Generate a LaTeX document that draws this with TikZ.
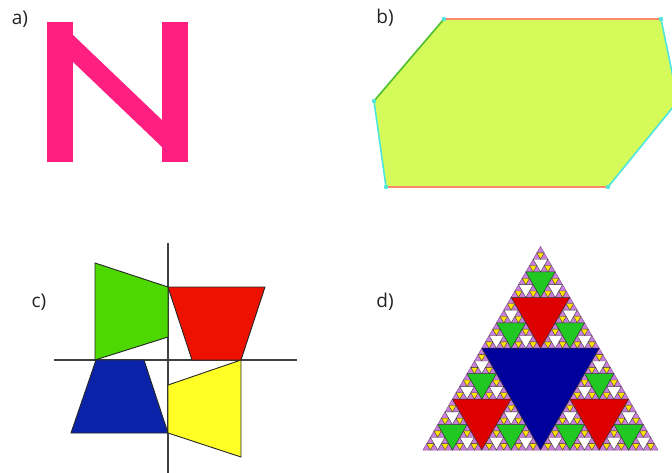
\documentclass[tikz,border=0pt]{standalone}
\usepackage{fontspec}
\setmainfont{Open Sans}
\usepackage{tikz}
\usetikzlibrary{positioning}
\definecolor{npink}{HTML}{FF1F80}
\definecolor{hexfill}{HTML}{D4FB5A}
\definecolor{hexsalmon}{HTML}{FF8A6A}
\definecolor{hexgreen}{HTML}{4CBF2A}
\definecolor{hexcyan}{HTML}{4EE6DC}
\definecolor{qgreen}{HTML}{4CD800}
\definecolor{qred}{HTML}{EE1100}
\definecolor{qblue}{HTML}{0A22A8}
\definecolor{qyellow}{HTML}{FFFF26}
\definecolor{axisgray}{HTML}{404040}
\definecolor{sblue}{HTML}{00009C}
\definecolor{sred}{HTML}{DC0000}
\definecolor{sgreen}{HTML}{22C822}
\definecolor{syellow}{HTML}{FFE400}
\definecolor{spurple}{HTML}{C97EDC}
\definecolor{labelgray}{HTML}{222222}
\definecolor{markgray}{HTML}{F6F6F6}

% one level of holes, then the three corner copies
\newcommand\sierpstep[1]{%
  \ifnum#1<6
    \filldraw[hole#1] (0.25,0.433) -- (0.75,0.433) -- (0.5,0) -- cycle;
    \begin{scope}[scale=0.5]\sierpnext{#1}\end{scope}
    \begin{scope}[shift={(0.5,0)},scale=0.5]\sierpnext{#1}\end{scope}
    \begin{scope}[shift={(0.25,0.433)},scale=0.5]\sierpnext{#1}\end{scope}
  \fi}
\newcommand\sierpnext[1]{\expandafter\sierpstep\expandafter{\the\numexpr#1+1\relax}}

\begin{document}
\begin{tikzpicture}[
  x=1pt, y=-1pt,
  tag/.style={font=\fontsize{19}{22}\selectfont, text=labelgray, inner sep=0pt},
  quad/.style={draw=black!85, line width=0.9pt, line join=miter},
  axis/.style={draw=axisgray, line width=1.3pt},
  hexedge/.style={line width=1.6pt},
  hexdot/.style={fill=hexcyan},
  hole1/.style={fill=sblue, draw=black!80, line width=0.5pt},
  hole2/.style={fill=sred, draw=black!80, line width=0.5pt},
  hole3/.style={fill=sgreen, draw=black!80, line width=0.5pt},
  hole4/.style={fill=white, draw=black!80, line width=0.4pt},
  hole5/.style={fill=syellow, draw=black!80, line width=0.35pt},
]
  \useasboundingbox (0,0) rectangle (672,473);
  \clip (0,0) rectangle (672,473);

  % faint watermark
  \draw[markgray, line width=9pt] (110,480) arc[start angle=180, end angle=0, radius=225];
  \draw[markgray, line width=7pt] (150,480) arc[start angle=180, end angle=0, radius=185];

  % a)
  \node[tag] (la) at (20,19) {a)};
  \fill[npink] (47,22) rectangle (73,162);
  \fill[npink] (162,22) rectangle (188,162);
  \fill[npink] (72,34) -- (162,120) -- (162,147) -- (72,61) -- cycle;

  % b)
  \node[tag] (lb) at (385,18) {b)};
  \coordinate (h1) at (444,19);
  \coordinate (h2) at (661,19);
  \coordinate (h3) at (678,101);
  \coordinate (h4) at (608,187);
  \coordinate (h5) at (386,187);
  \coordinate (h6) at (374,101);
  \fill[hexfill] (h1) -- (h2) -- (h3) -- (h4) -- (h5) -- (h6) -- cycle;
  \draw[hexedge, hexsalmon] (h1) -- (h2);
  \draw[hexedge, hexsalmon] (h4) -- (h5);
  \draw[hexedge, hexgreen] (h6) -- (h1);
  \draw[hexedge, hexcyan] (h2) -- (h3) -- (h4);
  \draw[hexedge, hexcyan] (h5) -- (h6);
  \foreach \v in {h1,h2,h4,h5,h6}
    \fill[hexdot] (\v) circle (2.2);

  % c)
  \node[tag] (lc) at (39,302) {c)};
  \draw[axis] (168,243) -- (168,473);
  \draw[axis] (54,360) -- (297,360);
  \filldraw[quad, fill=qgreen] (95,263) -- (168,287) -- (168,337) -- (95,360) -- cycle;
  \filldraw[quad, fill=qred] (168,287) -- (265,287) -- (241,360) -- (192,360) -- cycle;
  \filldraw[quad, fill=qblue] (96,360) -- (144,360) -- (168,433) -- (71,433) -- cycle;
  \filldraw[quad, fill=qyellow] (241,360) -- (241,457) -- (168,433) -- (168,385) -- cycle;

  % d)
  \node[tag] (ld) at (385,302) {d)};
  \begin{scope}[shift={(423,450)}, x={(235pt,0pt)}, y={(0pt,235pt)}]
    \filldraw[fill=spurple, draw=spurple!70!black, line width=0.5pt]
      (0,0) -- (1,0) -- (0.5,0.866) -- cycle;
    \sierpstep{1}
  \end{scope}
\end{tikzpicture}
\end{document}
